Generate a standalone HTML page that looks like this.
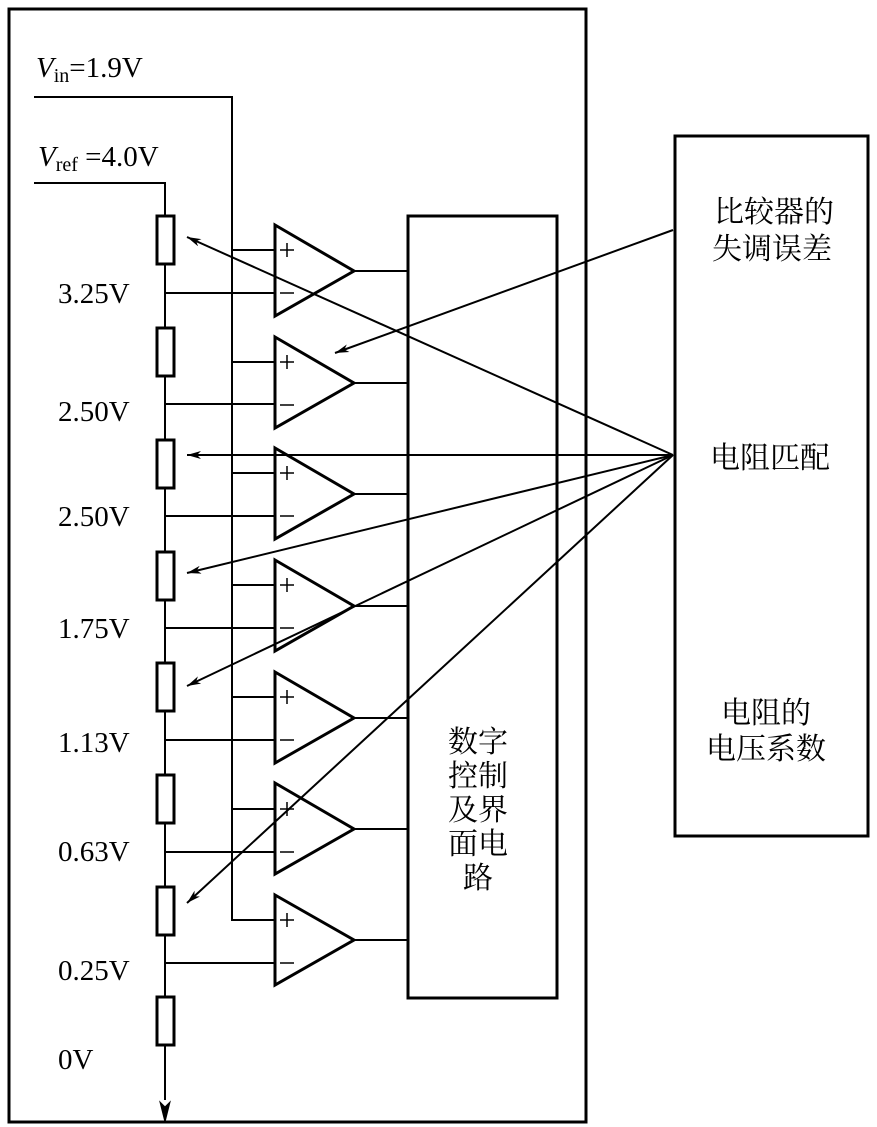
<!DOCTYPE html>
<html><head><meta charset="utf-8"><style>
body{margin:0;background:#fff}
svg{display:block}
text{font-family:"Liberation Serif","Noto Serif CJK SC",serif;fill:#000}
.c{font-family:"Liberation Serif","Noto Sans CJK SC",sans-serif;font-size:30px}
</style></head><body>
<svg width="877" height="1127" viewBox="0 0 877 1127" xmlns="http://www.w3.org/2000/svg">
<defs><marker id="a" markerWidth="14" markerHeight="8" refX="14" refY="4" orient="auto" markerUnits="userSpaceOnUse"><path d="M0,0 L14,4 L0,8 L4,4z" fill="#000"/></marker></defs>
<g fill="none" stroke="#000">
<rect x="9" y="9" width="577" height="1113" stroke-width="3"/>
<rect x="408" y="216" width="149" height="782" stroke-width="3"/>
<rect x="675" y="136" width="193" height="700" stroke-width="3"/>
<line x1="586" y1="9" x2="586" y2="1122" stroke-width="3"/>
<polyline points="34,97 232,97 232,920 275,920" stroke-width="2"/>
<polyline points="34,183 165,183 165,1100" stroke-width="2"/>
<path d="M165,1122 l-5,-20 l5,5 l5,-5z" fill="#000" stroke-width="1"/>
<g stroke-width="3" fill="#fff">
<rect x="157" y="216" width="17" height="48"/><rect x="157" y="328" width="17" height="48"/>
<rect x="157" y="440" width="17" height="48"/><rect x="157" y="552" width="17" height="48"/>
<rect x="157" y="663" width="17" height="48"/><rect x="157" y="775" width="17" height="48"/>
<rect x="157" y="887" width="17" height="48"/><rect x="157" y="997" width="17" height="48"/>
</g>
<g stroke-width="2">
<line x1="165" y1="293" x2="275" y2="293"/><line x1="165" y1="404" x2="275" y2="404"/>
<line x1="165" y1="516" x2="275" y2="516"/><line x1="165" y1="628" x2="275" y2="628"/>
<line x1="165" y1="740" x2="275" y2="740"/><line x1="165" y1="852" x2="275" y2="852"/>
<line x1="165" y1="963" x2="275" y2="963"/>
<line x1="232" y1="250" x2="275" y2="250"/><line x1="232" y1="362" x2="275" y2="362"/>
<line x1="232" y1="473" x2="275" y2="473"/><line x1="232" y1="585" x2="275" y2="585"/>
<line x1="232" y1="697" x2="275" y2="697"/><line x1="232" y1="809" x2="275" y2="809"/>
<line x1="354" y1="271" x2="408" y2="271"/><line x1="354" y1="383" x2="408" y2="383"/>
<line x1="354" y1="494" x2="408" y2="494"/><line x1="354" y1="606" x2="408" y2="606"/>
<line x1="354" y1="718" x2="408" y2="718"/><line x1="354" y1="829" x2="408" y2="829"/>
<line x1="354" y1="940" x2="408" y2="940"/>
</g>
<g stroke-width="3">
<path d="M275,225 L354,271 L275,316z"/><path d="M275,337 L354,383 L275,428z"/>
<path d="M275,448 L354,494 L275,539z"/><path d="M275,560 L354,606 L275,651z"/>
<path d="M275,672 L354,718 L275,763z"/><path d="M275,783 L354,829 L275,874z"/>
<path d="M275,895 L354,940 L275,985z"/>
</g>
<g stroke-width="1.5">
<path d="M280,250h14M287,243v14M280,293h14"/><path d="M280,362h14M287,355v14M280,405h14"/>
<path d="M280,473h14M287,466v14M280,516h14"/><path d="M280,585h14M287,578v14M280,628h14"/>
<path d="M280,697h14M287,690v14M280,740h14"/><path d="M280,809h14M287,802v14M280,852h14"/>
<path d="M280,920h14M287,913v14M280,963h14"/>
</g>
<g stroke-width="2" marker-end="url(#a)">
<line x1="673" y1="230" x2="335" y2="353"/>
<line x1="673" y1="455" x2="187" y2="237"/>
<line x1="673" y1="455" x2="187" y2="455"/>
<line x1="673" y1="455" x2="187" y2="573"/>
<line x1="673" y1="455" x2="187" y2="686"/>
<line x1="673" y1="455" x2="187" y2="903"/>
</g>
</g>
<text x="36" y="77" font-size="29"><tspan font-style="italic">V</tspan><tspan font-size="20" dy="5">in</tspan><tspan dy="-5">=1.9V</tspan></text>
<text x="38" y="166" font-size="29"><tspan font-style="italic">V</tspan><tspan font-size="20" dy="5">ref</tspan><tspan dy="-5"> =4.0V</tspan></text>
<g font-size="29">
<text x="58" y="303">3.25V</text><text x="58" y="421">2.50V</text><text x="58" y="526">2.50V</text>
<text x="58" y="638">1.75V</text><text x="58" y="752">1.13V</text><text x="58" y="861">0.63V</text>
<text x="58" y="980">0.25V</text><text x="58" y="1069">0V</text>
</g>
<g class="c">
<text x="448" y="752">数字</text><text x="448" y="786">控制</text><text x="448" y="820">及界</text>
<text x="448" y="854">面电</text><text x="463" y="888">路</text>
<text x="714" y="222">比较器的</text><text x="712" y="259">失调误差</text>
<text x="710" y="468">电阻匹配</text>
<text x="721" y="723">电阻的</text><text x="706" y="759">电压系数</text>
</g>
</svg>
</body></html>
